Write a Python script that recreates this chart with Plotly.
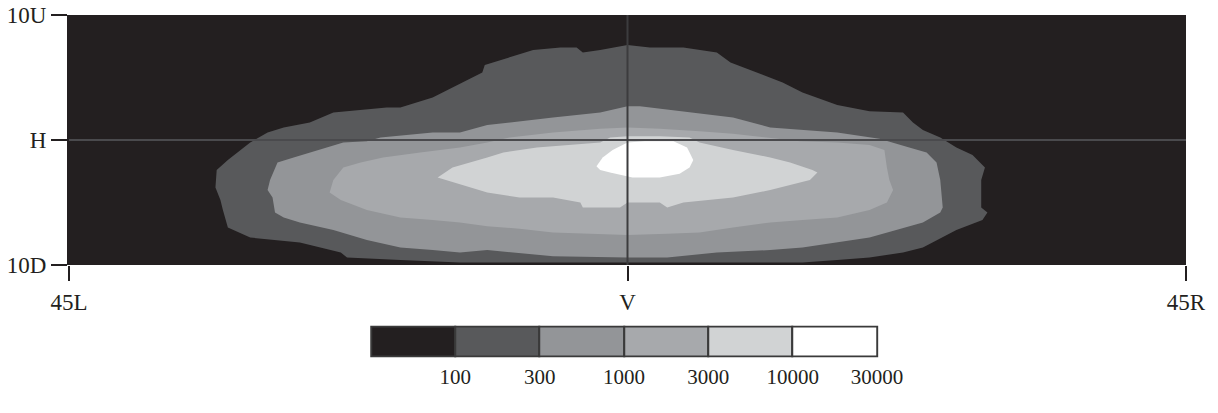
import plotly.graph_objects as go

# Isolux contour boundaries (degrees: x = L(-)/R(+), y = D(-)/U(+))
ge100_x = [-33.2, -32.8, -32.6, -32.2, -30.4, -26.4, -23.1, -22.6, -18.3, -13.5, 0.0, 14.1, 16.9, 19.5,
           22.2, 23.8, 26.5, 28.6, 29.0, 28.5, 28.5, 28.8, 28.4, 27.8, 26.5, 25.2, 23.8, 23.0, 22.2, 19.5,
           16.9, 14.1, 12.5, 9.9, 8.3, 7.2, 4.5, 1.8, 0.0, -2.2, -3.6, -4.1, -5.4, -7.6, -10.3, -11.5,
           -11.7, -12.9, -15.7, -18.3, -19.4, -23.7, -25.6, -27.7, -29.0, -30.4, -31.2, -32.2, -33.1]
ge100_y = [-3.8, -4.8, -5.6, -7.0, -7.8, -8.2, -9.0, -9.4, -9.6, -9.8, -9.8, -9.8, -9.6, -9.4,
           -9.0, -8.6, -7.2, -6.4, -5.8, -5.4, -3.2, -2.2, -1.8, -1.2, -0.6, 0.2, 0.8, 1.4, 2.2, 2.3,
           2.8, 3.8, 4.6, 5.6, 6.2, 7.0, 7.4, 7.4, 7.6, 7.2, 7.0, 7.4, 7.4, 7.2, 6.4, 6.0,
           5.4, 4.8, 3.4, 2.6, 2.6, 2.2, 1.4, 1.0, 0.6, -0.2, -0.8, -1.6, -2.4]

ge300_x = [-28.2, -28.8, -29.0, -28.6, -28.4, -27.7, -26.4, -23.7, -21.0, -18.3, -15.7, -13.5, -11.3,
           -6.0, 0.0, 3.2, 7.2, 11.5, 14.1, 16.9, 19.5, 23.8, 25.2, 25.4, 25.2, 24.9, 24.1, 22.7, 20.3,
           16.9, 14.1, 11.5, 8.5, 3.2, 1.0, 0.0, -2.2, -6.0, -11.3, -13.5, -15.7, -19.9, -21.0, -22.9,
           -25.0, -26.9]
ge300_y = [-1.8, -3.2, -4.0, -4.6, -5.8, -6.2, -6.6, -7.2, -8.0, -8.6, -8.8, -9.0, -8.8,
           -9.3, -9.4, -9.4, -9.0, -8.8, -8.6, -8.2, -7.8, -6.6, -5.8, -5.4, -3.2, -1.8, -1.0, -0.6, 0.1,
           0.6, 0.8, 1.0, 1.8, 2.4, 2.7, 2.7, 2.2, 1.8, 1.2, 0.6, 0.6, 0.2, -0.1, -0.2,
           -0.8, -1.4]

ge1000_x = [-22.9, -23.7, -24.0, -23.1, -21.0, -18.3, -15.7, -13.5, -11.3, -8.7, -6.0, 0.0, 3.2, 5.8,
            8.5, 11.5, 14.1, 16.9, 19.5, 20.9, 21.4, 21.1, 20.9, 20.7, 19.5, 16.9, 13.9, 11.2, 8.5, 5.8,
            2.6, 0.0, -2.2, -6.0, -9.5, -11.3, -13.5, -16.7, -19.7, -21.5]
ge1000_y = [-2.2, -3.2, -4.2, -4.8, -5.6, -6.2, -6.4, -6.6, -6.9, -7.1, -7.4, -7.6, -7.5, -7.4,
            -7.0, -6.6, -6.4, -6.2, -5.6, -5.0, -4.0, -3.2, -2.2, -0.8, -0.4, -0.2, -0.1, 0.2, 0.5, 0.7,
            0.9, 1.0, 0.9, 0.6, 0.2, -0.2, -0.6, -1.0, -1.4, -1.8]

ge3000_x = [-15.3, -14.1, -11.3, -10.0, -7.3, -4.6, -2.2, -1.4, 0.0, 2.6, 5.0, 5.8, 8.5, 11.5, 13.1,
            14.9, 15.3, 14.7, 13.1, 11.5, 8.5, 4.5, 3.2, 2.6, 0.0, -0.6, -3.6, -3.8, -6.0, -8.7, -11.3,
            -14.1]
ge3000_y = [-3.0, -2.2, -1.4, -1.0, -0.6, -0.4, -0.2, 0.2, 0.3, 0.3, 0.2, -0.2, -0.8, -1.4, -1.8,
            -2.4, -2.6, -3.2, -3.6, -4.0, -4.6, -5.0, -5.4, -5.0, -5.0, -5.4, -5.4, -5.0, -4.6, -4.6, -4.2,
            -3.4]

ge10000_x = [-2.5, -2.0, -1.2, 0.0, 1.4, 3.7, 4.8, 5.3, 5.0, 4.2, 2.6, 0.4, -1.4, -2.2]
ge10000_y = [-2.1, -1.4, -0.8, -0.2, -0.1, -0.1, -0.6, -1.6, -2.2, -2.7, -3.0, -3.0, -2.6, -2.4]

band_labels = ["100", "300", "1000", "3000", "10000", "30000"]
band_colors = ["#231f20", "#58595b", "#939598", "#a7a9ac", "#d1d3d4", "#ffffff"]

x_tick_vals = [-45, 0, 45]
x_tick_text = ["45L", "V", "45R"]
y_tick_vals = [-10, 0, 10]
y_tick_text = ["10D", "H", "10U"]

INK = "#231f20"
FONT = dict(family="Liberation Serif, Times New Roman, serif", size=23, color=INK)

fig = go.Figure()

# background (< 100 lux) fills the whole plotting field
fig.add_shape(type="rect", xref="x domain", yref="y domain", x0=0, x1=1, y0=0, y1=1,
              fillcolor=band_colors[0], line_width=0, layer="below")

regions = [(ge100_x, ge100_y), (ge300_x, ge300_y), (ge1000_x, ge1000_y),
           (ge3000_x, ge3000_y), (ge10000_x, ge10000_y)]
for (xs, ys), col in zip(regions, band_colors[1:]):
    fig.add_trace(go.Scatter(x=list(xs) + [xs[0]], y=list(ys) + [ys[0]], mode="lines",
                             fill="toself", fillcolor=col, line=dict(width=0, color=col),
                             hoverinfo="skip", showlegend=False, xaxis="x", yaxis="y"))

# H and V reference lines
fig.add_shape(type="line", xref="x domain", yref="y", x0=0, x1=1, y0=0, y1=0,
              line=dict(color="#4a4a4d", width=2), layer="above")
fig.add_shape(type="line", xref="x", yref="y domain", x0=0, x1=0, y0=0, y1=1,
              line=dict(color="#3c3c3e", width=2), layer="above")

# legend bar
fig.add_trace(go.Bar(x=list(range(len(band_labels))), y=[1] * len(band_labels), width=1,
                     marker=dict(color=band_colors, line=dict(color="#3a3a3a", width=2)),
                     hoverinfo="skip", showlegend=False, xaxis="x2", yaxis="y2"))

fig.update_layout(
    width=1218, height=413,
    margin=dict(l=69, r=32, t=15, b=35, autoexpand=False),
    paper_bgcolor="white", plot_bgcolor="white",
    font=FONT, bargap=0, showlegend=False,
    xaxis=dict(domain=[0, 1], anchor="y", range=[-45, 45], tickvals=x_tick_vals, ticktext=x_tick_text,
               ticks="outside", ticklen=15, tickwidth=2, tickcolor=INK, showgrid=False,
               zeroline=False, showline=False, ticklabelstandoff=1, fixedrange=True, automargin=False),
    yaxis=dict(domain=[0.3113, 1], anchor="x", range=[-10, 10], tickvals=y_tick_vals,
               ticktext=y_tick_text, ticks="outside", ticklen=16, tickwidth=2, tickcolor=INK,
               showgrid=False, zeroline=False, showline=True, linecolor=INK, linewidth=2,
               fixedrange=True, automargin=False),
    xaxis2=dict(domain=[0.2688, 0.7249], anchor="y2", range=[-0.52, 5.52],
                tickvals=[i + 0.5 for i in range(len(band_labels))], ticktext=band_labels,
                ticks="", showgrid=False, zeroline=False, showline=False, ticklabelstandoff=5,
                tickfont=dict(size=21), fixedrange=True, automargin=False),
    yaxis2=dict(domain=[0.0565, 0.1446], anchor="x2", range=[-0.05, 1.05], visible=False,
                fixedrange=True, automargin=False),
)

fig.write_html("out.html")
